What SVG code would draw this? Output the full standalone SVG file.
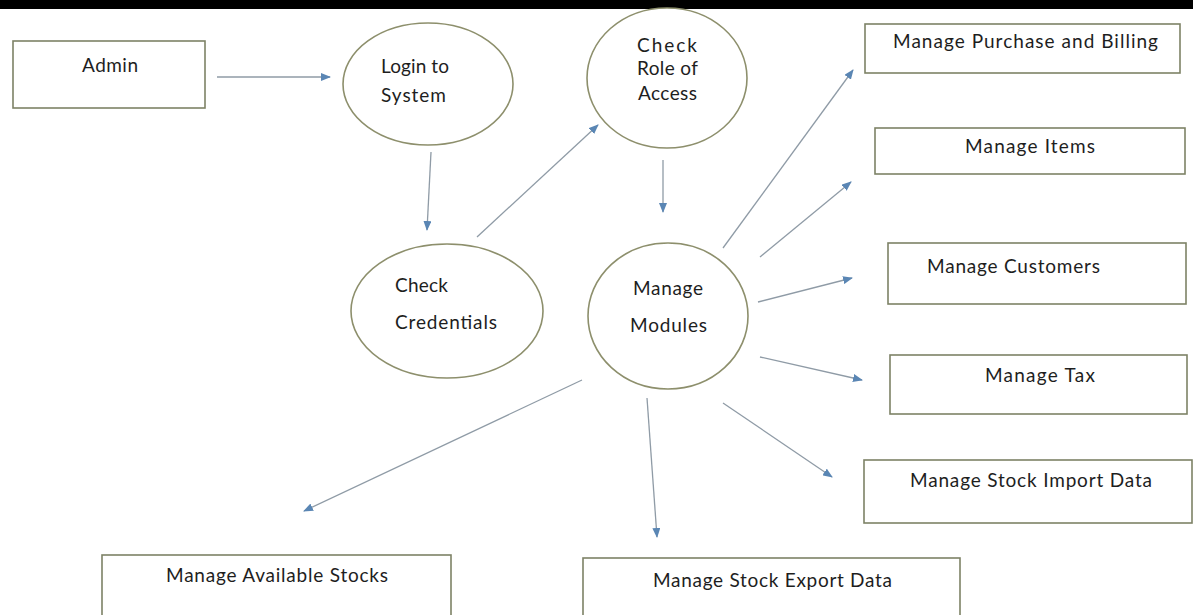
<svg xmlns="http://www.w3.org/2000/svg" width="1193" height="615" viewBox="0 0 1193 615">
  <style>
    .box { fill: #ffffff; stroke: #7d8266; stroke-width: 1.6; }
    .proc { fill: #ffffff; stroke: #8d8f6c; stroke-width: 1.6; }
    .lbl { font-family: Lato, "Liberation Sans", sans-serif; font-size: 19px; fill: #1e1e1e; }
    .flow { stroke: #8f9ba6; stroke-width: 1.3; fill: none; marker-end: url(#head); }
  </style>
  <defs>
    <marker id="head" markerUnits="userSpaceOnUse" markerWidth="10" markerHeight="8" refX="9" refY="4" orient="auto">
      <path d="M0,0 L10,4 L0,8 z" fill="#5a86b4"/>
    </marker>
  </defs>

  <rect x="0" y="0" width="1193" height="615" fill="#ffffff"/>
  <!-- dark strip along the top edge -->
  <rect x="0" y="0" width="1193" height="9" fill="#000000"/>

  <g id="admin">
    <rect class="box" x="13" y="41" width="192" height="67"/>
    <text class="lbl" x="82" y="72" textLength="56" lengthAdjust="spacing">Admin</text>
  </g>

  <g id="login">
    <ellipse class="proc" cx="428" cy="84" rx="85" ry="61"/>
    <text class="lbl" x="381" y="73" textLength="68" lengthAdjust="spacing">Login to</text>
    <text class="lbl" x="381" y="102" textLength="65" lengthAdjust="spacing">System</text>
  </g>

  <g id="check-role">
    <ellipse class="proc" cx="667" cy="78" rx="80" ry="70"/>
    <text class="lbl" x="637" y="52" textLength="60" lengthAdjust="spacing">Check</text>
    <text class="lbl" x="637" y="75" textLength="61" lengthAdjust="spacing">Role of</text>
    <text class="lbl" x="638" y="100" textLength="59" lengthAdjust="spacing">Access</text>
  </g>

  <g id="check-credentials">
    <ellipse class="proc" cx="447" cy="311" rx="96" ry="67"/>
    <text class="lbl" x="395" y="292" textLength="53" lengthAdjust="spacing">Check</text>
    <text class="lbl" x="395" y="329" textLength="102" lengthAdjust="spacing">Credentials</text>
  </g>

  <g id="manage-modules">
    <ellipse class="proc" cx="668" cy="316" rx="80" ry="73"/>
    <text class="lbl" x="633" y="295" textLength="70" lengthAdjust="spacing">Manage</text>
    <text class="lbl" x="630" y="332" textLength="77" lengthAdjust="spacing">Modules</text>
  </g>

  <g id="purchase-billing">
    <rect class="box" x="865" y="24" width="315" height="49"/>
    <text class="lbl" x="893" y="48" textLength="265" lengthAdjust="spacing">Manage Purchase and Billing</text>
  </g>

  <g id="items">
    <rect class="box" x="875" y="128" width="310" height="46"/>
    <text class="lbl" x="965" y="153" textLength="130" lengthAdjust="spacing">Manage Items</text>
  </g>

  <g id="customers">
    <rect class="box" x="888" y="243" width="298" height="61"/>
    <text class="lbl" x="927" y="273" textLength="173" lengthAdjust="spacing">Manage Customers</text>
  </g>

  <g id="tax">
    <rect class="box" x="890" y="355" width="297" height="59"/>
    <text class="lbl" x="985" y="382" textLength="110" lengthAdjust="spacing">Manage Tax</text>
  </g>

  <g id="stock-import">
    <rect class="box" x="864" y="460" width="328" height="63"/>
    <text class="lbl" x="910" y="487" textLength="242" lengthAdjust="spacing">Manage Stock Import Data</text>
  </g>

  <g id="stock-export">
    <rect class="box" x="583" y="558" width="377" height="64"/>
    <text class="lbl" x="653" y="587" textLength="239" lengthAdjust="spacing">Manage Stock Export Data</text>
  </g>

  <g id="available-stocks">
    <rect class="box" x="102" y="555" width="349" height="67"/>
    <text class="lbl" x="166" y="582" textLength="222" lengthAdjust="spacing">Manage Available Stocks</text>
  </g>

  <g id="connectors">
    <line class="flow" x1="217" y1="77" x2="330" y2="77"/>
    <line class="flow" x1="431" y1="152" x2="427" y2="230"/>
    <line class="flow" x1="477" y1="237" x2="598" y2="125"/>
    <line class="flow" x1="663" y1="160" x2="663" y2="212"/>
    <line class="flow" x1="723" y1="248" x2="853" y2="70"/>
    <line class="flow" x1="760" y1="257" x2="851" y2="182"/>
    <line class="flow" x1="758" y1="302" x2="852" y2="278"/>
    <line class="flow" x1="760" y1="357" x2="862" y2="380"/>
    <line class="flow" x1="723" y1="403" x2="832" y2="477"/>
    <line class="flow" x1="647" y1="398" x2="657" y2="537"/>
    <line class="flow" x1="582" y1="380" x2="304" y2="511"/>
  </g>
</svg>
